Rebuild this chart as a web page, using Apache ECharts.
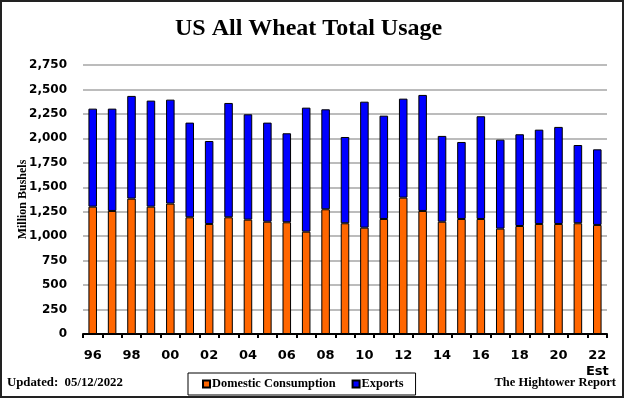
<!DOCTYPE html>
<html>
<head>
<meta charset="utf-8">
<title>US All Wheat Total Usage</title>
<script src="https://cdn.jsdelivr.net/npm/echarts@6/dist/echarts.min.js"></script>
<style>
html,body{margin:0;padding:0;background:#fff;}
#container{width:624px;height:398px;}
</style>
</head>
<body>
<div id="container"></div>
<script>
    // marketing years 1996 .. 2022 (2022 = estimate)
    var years = ['96','97','98','99','00','01','02','03','04','05','06','07','08','09',
                 '10','11','12','13','14','15','16','17','18','19','20','21','22'];
    var domestic = [1302,1258,1384,1302,1333,1193,1125,1193,1169,1148,1142,1046,1275,1132,
                    1087,1176,1394,1258,1148,1176,1176,1077,1104,1125,1125,1132,1115];
    var exports_ = [1002,1046,1050,1084,1063,968,848,1169,1077,1013,910,1268,1022,882,
                    1288,1056,1012,1186,877,787,1050,910,938,964,992,800,773];
    var yTicks = [0,250,500,750,1000,1250,1500,1750,2000,2250,2500,2750];

    var serif = '"Liberation Serif", "DejaVu Serif", serif';
    var sans = '"DejaVu Sans", Verdana, sans-serif';

    var option = {
        animation: false,
        title: {
            text: 'US All Wheat Total Usage',
            left: 170,
            top: 12,
            textStyle: { fontFamily: serif, fontWeight: 'bold', fontSize: 24, color: '#000' }
        },
        grid: { left: 83, right: 17, top: 65, bottom: 64, outerBoundsMode: 'none' },
        legend: {
            data: ['Domestic Consumption', 'Exports'],
            left: 188,
            top: 373,
            width: 225,
            itemWidth: 7,
            itemHeight: 7,
            itemGap: 16,
            padding: [5, 12, 5, 14],
            borderColor: '#000',
            borderWidth: 1,
            icon: 'rect',
            textStyle: { fontFamily: serif, fontWeight: 'bold', fontSize: 12.4, color: '#000', padding: [0, 0, 0, -3] }
        },
        xAxis: {
            type: 'category',
            data: years,
            axisLine: { lineStyle: { color: '#000', width: 2 } },
            axisTick: { show: true, interval: 0, length: 4, lineStyle: { color: '#000', width: 2 } },
            axisLabel: {
                interval: 1,
                margin: 14,
                fontFamily: sans,
                fontWeight: 'bold',
                fontSize: 13,
                color: '#000',
                lineHeight: 16,
                formatter: function (v) { return v === '22' ? '22\nEst' : v; }
            }
        },
        yAxis: {
            type: 'value',
            min: yTicks[0],
            max: yTicks[yTicks.length - 1],
            interval: 250,
            name: 'Million Bushels',
            nameLocation: 'middle',
            nameGap: 54,
            nameMoveOverlap: false,
            nameTextStyle: { fontFamily: serif, fontWeight: 'bold', fontSize: 12, color: '#000' },
            axisLine: { show: false },
            axisTick: { show: false },
            splitLine: { lineStyle: { color: '#a6a6a6', width: 1.5 } },
            axisLabel: {
                margin: 16,
                fontFamily: sans,
                fontWeight: 'bold',
                fontSize: 12,
                color: '#000',
                formatter: function (v) { return v.toLocaleString('en-US'); }
            }
        },
        series: [
            {
                name: 'Domestic Consumption',
                type: 'bar',
                stack: 'use',
                barWidth: '44%',
                itemStyle: { color: '#ff6600', borderColor: '#000', borderWidth: 1 },
                data: domestic
            },
            {
                name: 'Exports',
                type: 'bar',
                stack: 'use',
                barWidth: '44%',
                itemStyle: { color: '#0000ff', borderColor: '#000', borderWidth: 1 },
                data: exports_
            }
        ],
        graphic: [
            {
                type: 'rect',
                shape: { x: 1, y: 1, width: 622, height: 396 },
                style: { fill: null, stroke: '#222', lineWidth: 2 },
                silent: true
            },
            {
                type: 'text',
                left: 7,
                top: 376,
                style: { text: 'Updated:  05/12/2022', fontFamily: serif, fontWeight: 'bold', fontSize: 12.8, fill: '#000' }
            },
            {
                type: 'text',
                right: 8,
                top: 376,
                style: { text: 'The Hightower Report', fontFamily: serif, fontWeight: 'bold', fontSize: 12.5, fill: '#000' }
            }
        ]
    };
    var myChart = echarts.init(document.getElementById('container'));
    myChart.setOption(option, true);
</script>
</body>
</html>
